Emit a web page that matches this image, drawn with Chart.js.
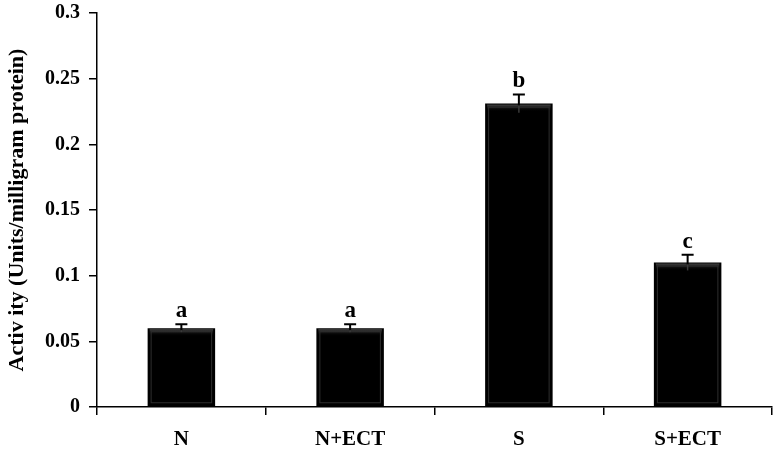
<!DOCTYPE html>
<html><head><meta charset="utf-8">
<script src="https://cdn.jsdelivr.net/npm/chart.js@4"></script>
<style>html,body{margin:0;padding:0;background:#fff}#wrap{width:780px;height:452px}</style>
</head><body><div id="wrap"><canvas id="c" width="780" height="452"></canvas></div>
<script>
const categories = ["N", "N+ECT", "S", "S+ECT"];
const activity = [0.060, 0.060, 0.231, 0.110];
const errors = [0.003, 0.003, 0.007, 0.006];
const letters = ["a", "a", "b", "c"];
const yTicks = [0, 0.05, 0.1, 0.15, 0.2, 0.25, 0.3];
const FONT = "'Liberation Serif','Times New Roman',serif";

const annot = {
  id: 'annot',
  afterDatasetsDraw(chart) {
    const ctx = chart.ctx, y = chart.scales.y;
    const meta = chart.getDatasetMeta(0);
    ctx.save();
    meta.data.forEach((bar, i) => {
      const cx = bar.x, w = bar.width, top = bar.y, base = bar.base;
      const g = ctx.createLinearGradient(0, top, 0, top + 8);
      g.addColorStop(0, '#5a5a5a'); g.addColorStop(1, 'rgba(0,0,0,0)');
      ctx.fillStyle = g;
      ctx.fillRect(cx - w/2 + 2, top + 1, w - 4, 7);
      ctx.strokeStyle = '#2e2e2e'; ctx.lineWidth = 1;
      ctx.strokeRect(cx - w/2 + 3.5, top + 3.5, w - 7, base - top - 7);
      const yt = y.getPixelForValue(activity[i] + errors[i]);
      ctx.strokeStyle = '#000';
      ctx.lineWidth = 2;
      ctx.beginPath();
      ctx.moveTo(cx, yt); ctx.lineTo(cx, top + 2);
      ctx.moveTo(cx - 6, yt); ctx.lineTo(cx + 6, yt);
      ctx.stroke();
      ctx.strokeStyle = '#3a3a3a'; ctx.lineWidth = 1.5;
      ctx.beginPath();
      ctx.moveTo(cx, top + 2); ctx.lineTo(cx, y.getPixelForValue(activity[i] - errors[i]));
      ctx.stroke();
      ctx.fillStyle = '#000';
      ctx.font = "bold 23px " + FONT;
      ctx.textAlign = 'center'; ctx.textBaseline = 'alphabetic';
      ctx.fillText(letters[i], cx, yt - 7);
    });
    ctx.restore();
  }
};

new Chart(document.getElementById('c'), {
  type: 'bar',
  data: { labels: categories, datasets: [{ data: activity, backgroundColor: '#000', borderWidth: 0, barPercentage: 0.4, categoryPercentage: 1.0 }] },
  options: {
    responsive: false, animation: false,
    layout: { padding: { top: 13, right: 8, left: 0, bottom: 0 } },
    plugins: { legend: { display: false }, tooltip: { enabled: false } },
    scales: {
      x: {
        grid: { drawOnChartArea: false, drawTicks: true, tickLength: 8, color: '#000', lineWidth: 1.5, offset: true },
        border: { display: true, color: '#000', width: 1.5 },
        ticks: { color: '#000', font: { family: FONT, size: 21, weight: 'bold' }, padding: 12 },
        afterFit(s) { s.height = 45; s.paddingLeft = 0; s.paddingRight = 0; }
      },
      y: {
        min: 0, max: 0.3,
        afterBuildTicks(s) { s.ticks = yTicks.map(v => ({ value: v })); },
        grid: { drawOnChartArea: false, drawTicks: true, tickLength: 8, color: '#000', lineWidth: 1.5 },
        border: { display: true, color: '#000', width: 1.5 },
        ticks: { color: '#000', font: { family: FONT, size: 20, weight: 'bold' }, padding: 9,
          callback: (v) => String(+v.toFixed(2)) },
        title: { display: true, text: 'Activ ity (Units/milligram protein)', color: '#000', font: { family: FONT, size: 22, weight: 'bold' }, padding: { top: 4, bottom: 0 } },
        afterFit(s) { s.width = 97; s.paddingTop = 0; s.paddingBottom = 0; }
      }
    }
  },
  plugins: [annot]
});
</script>
</body></html>
